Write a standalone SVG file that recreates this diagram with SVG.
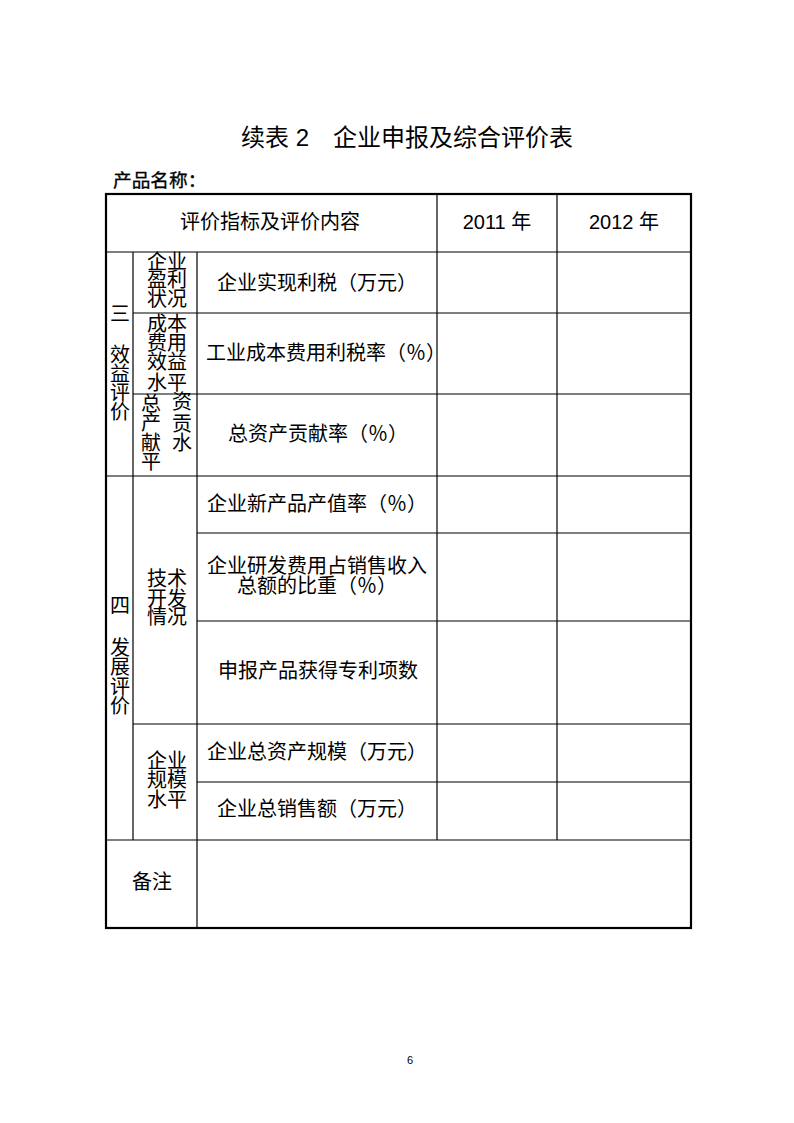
<svg xmlns="http://www.w3.org/2000/svg" width="794" height="1123" viewBox="0 0 794 1123">
<style>
text{font-family:"Liberation Sans","Noto Sans CJK SC",sans-serif;fill:#000;}
.t{font-size:20px;text-anchor:middle;}
.s{font-size:20px;}
.title{font-size:24px;text-anchor:middle;}
.pn{font-size:18.67px;stroke:#000;stroke-width:0.35;}
.ln{stroke:#000;stroke-width:1.2;fill:none;}
.out{stroke:#000;stroke-width:2.2;fill:none;}
</style>
<rect width="794" height="1123" fill="#fff"/>
<g id="title"><text class="title" x="407" y="146">续表 2　企业申报及综合评价表</text></g>
<g id="product"><text class="pn" x="113" y="187">产品名称：</text></g>
<g id="connectors">
<rect class="out" x="106" y="194" width="585" height="734"/>
<path class="ln" d="M106 252H691 M133 313H691 M133 394H691 M106 476H691 M197 533H691 M197 621H691 M133 724H691 M197 782H691 M106 840H691 M133 252V840 M197 252V928 M437 194V840 M557 194V840"/>
</g>
<g id="header">
<text class="s" x="180" y="229">评价指标及评价内容</text>
<text class="t" x="497" y="229">2011 年</text>
<text class="t" x="624" y="229">2012 年</text>
</g>
<g id="cat3">
<text class="t" x="120" y="321">三</text>
<text class="t" x="120" y="362">效</text>
<text class="t" x="120" y="381">益</text>
<text class="t" x="120" y="400">评</text>
<text class="t" x="120" y="419">价</text>
</g>
<g id="sub1">
<text class="t" x="167" y="269">企业</text>
<text class="t" x="167" y="287">盈利</text>
<text class="t" x="167" y="306">状况</text>
</g>
<g id="sub2">
<text class="t" x="167" y="331">成本</text>
<text class="t" x="167" y="350">费用</text>
<text class="t" x="167" y="369">效益</text>
<text class="t" x="167" y="390">水平</text>
</g>
<g id="sub3">
<text class="t" x="151" y="411">总</text>
<text class="t" x="182" y="409">资</text>
<text class="t" x="151" y="430">产</text>
<text class="t" x="182" y="431">贡</text>
<text class="t" x="151" y="450">献</text>
<text class="t" x="182" y="450">水</text>
<text class="t" x="151" y="469">平</text>
</g>
<g id="cat4">
<text class="t" x="120" y="613">四</text>
<text class="t" x="120" y="655">发</text>
<text class="t" x="120" y="674">展</text>
<text class="t" x="120" y="694">评</text>
<text class="t" x="120" y="713">价</text>
</g>
<g id="sub4">
<text class="t" x="167" y="586">技术</text>
<text class="t" x="167" y="606">开发</text>
<text class="t" x="167" y="624">情况</text>
</g>
<g id="sub5">
<text class="t" x="167" y="768">企业</text>
<text class="t" x="167" y="787">规模</text>
<text class="t" x="167" y="807">水平</text>
</g>
<g id="items">
<text class="s" x="217" y="290">企业实现利税（万元）</text>
<text class="s" x="206" y="360">工业成本费用利税率（％）</text>
<text class="s" x="228" y="441">总资产贡献率（％）</text>
<text class="s" x="207" y="511">企业新产品产值率（％）</text>
<text class="s" x="207" y="573">企业研发费用占销售收入</text>
<text class="s" x="237" y="593">总额的比重（％）</text>
<text class="s" x="218" y="678">申报产品获得专利项数</text>
<text class="s" x="207" y="759">企业总资产规模（万元）</text>
<text class="s" x="217" y="816">企业总销售额（万元）</text>
</g>
<g id="remark"><text class="t" x="152" y="889">备注</text></g>
<g id="page"><text x="410" y="1064" style="font-size:11px;text-anchor:middle">6</text></g>
</svg>
